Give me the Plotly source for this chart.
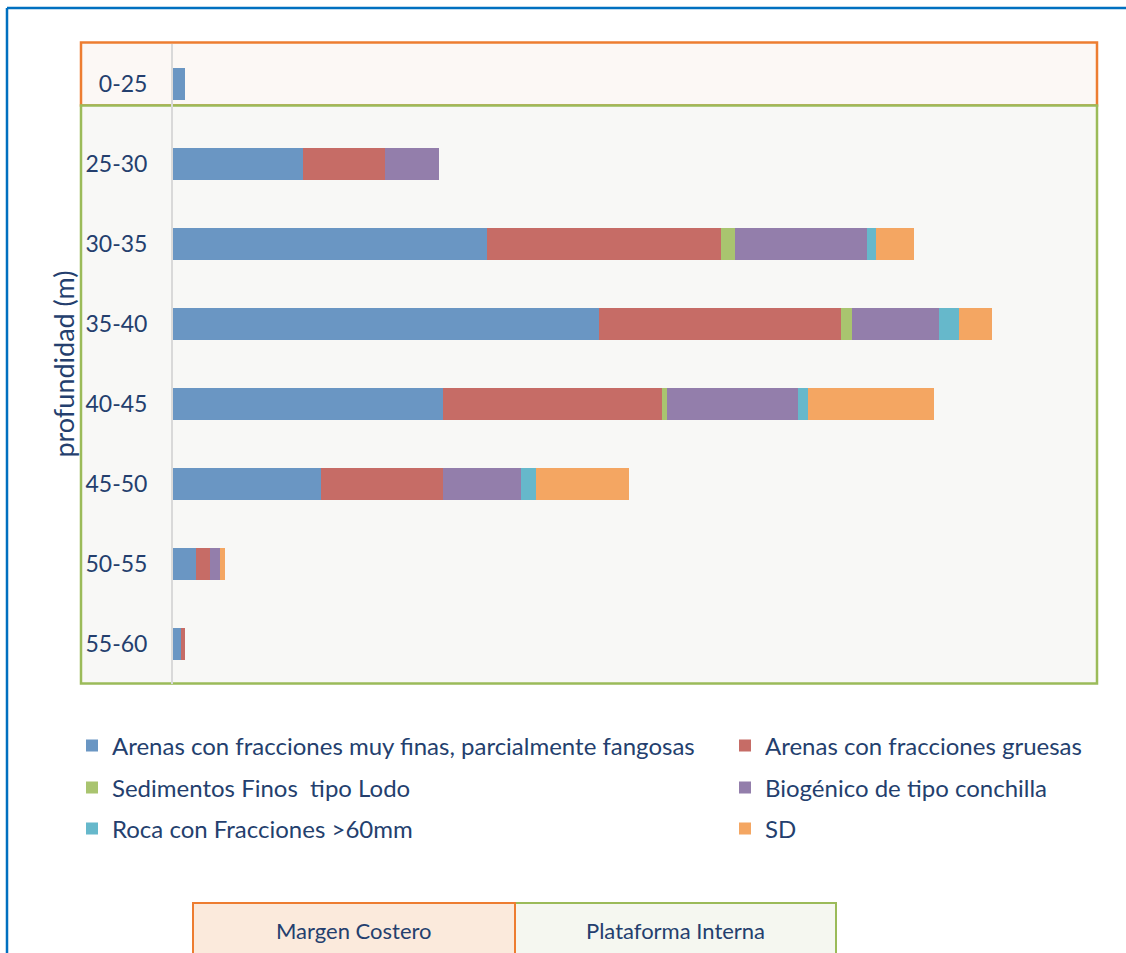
import plotly.graph_objects as go

# Depth classes (m)
depths = ["0-25", "25-30", "30-35", "35-40", "40-45", "45-50", "50-55", "55-60"]

# Stacked amounts per sediment type for each depth class
arenas_finas = [3.1, 32.6, 78.5, 106.5, 67.6, 37.0, 5.7, 2.0]
arenas_gruesas = [0.0, 20.5, 58.4, 60.5, 54.7, 30.6, 3.6, 1.0]
sedimentos_finos = [0.0, 0.0, 3.6, 2.7, 1.2, 0.0, 0.0, 0.0]
biogenico = [0.0, 13.3, 32.9, 21.8, 32.8, 19.4, 2.5, 0.0]
roca = [0.0, 0.0, 2.3, 5.0, 2.5, 3.8, 0.0, 0.0]
sin_dato = [0.0, 0.0, 9.6, 8.3, 31.5, 23.1, 1.3, 0.0]

series_names = [
    "Arenas con fracciones muy finas, parcialmente fangosas",
    "Arenas con fracciones gruesas",
    "Sedimentos Finos  tipo Lodo",
    "Biogénico de tipo conchilla",
    "Roca con Fracciones >60mm",
    "SD",
]
series_values = [arenas_finas, arenas_gruesas, sedimentos_finos, biogenico, roca, sin_dato]
series_colors = ["#6A96C3", "#C66C66", "#A9C46F", "#937EAB", "#66B8CB", "#F4A662"]

zone_labels = ["Margen Costero", "Plataforma Interna"]

W, H = 1126, 953
L, R, T, B = 173, 29, 44, 269
PW, PH = W - L - R, H - T - B


def px(x):
    return (x - L) / PW


def py(y):
    return (H - B - y) / PH


FONT = "Lato"
TXT = "#243F6E"

fig = go.Figure()

# legend slots: two columns, three rows
leg_x = [px(72), px(725)]
leg_y = [py(746), py(788), py(829)]

for i, (name, vals, col) in enumerate(zip(series_names, series_values, series_colors)):
    lname = "legend" if i == 0 else f"legend{i + 1}"
    fig.add_trace(go.Bar(
        y=depths, x=vals, name=name, orientation="h",
        marker=dict(color=col, line=dict(width=0)),
        width=0.4, legend=lname, showlegend=True,
    ))
    fig.update_layout({lname: dict(
        x=leg_x[i % 2], y=leg_y[i // 2], xanchor="left", yanchor="middle",
        orientation="h", bgcolor="rgba(0,0,0,0)", itemwidth=30,
        font=dict(family=FONT, size=24, color=TXT),
        itemclick=False, itemdoubleclick=False,
    )})

shapes = []
# coastal margin band (top row)
shapes.append(dict(type="rect", xref="paper", yref="paper",
                   x0=px(81), x1=px(1097), y0=py(105.5), y1=py(42.5),
                   fillcolor="#FCF8F5", line=dict(color="#ED7D31", width=2.5), layer="below"))
# inner shelf band (remaining rows)
shapes.append(dict(type="rect", xref="paper", yref="paper",
                   x0=px(81), x1=px(1097), y0=py(683.5), y1=py(105.5),
                   fillcolor="#F8F8F6", line=dict(color="#9BBB59", width=2.5), layer="below"))
# outer frame
shapes.append(dict(type="line", xref="paper", yref="paper",
                   x0=px(7), x1=px(7), y0=py(8), y1=py(960),
                   line=dict(color="#0070C0", width=2.5)))
shapes.append(dict(type="line", xref="paper", yref="paper",
                   x0=px(7), x1=px(1130), y0=py(8), y1=py(8),
                   line=dict(color="#0070C0", width=2.5)))
# zone key boxes
shapes.append(dict(type="rect", xref="paper", yref="paper",
                   x0=px(515), x1=px(836), y0=py(960), y1=py(903),
                   fillcolor="#F5F7F0", line=dict(color="#9BBB59", width=2)))
shapes.append(dict(type="rect", xref="paper", yref="paper",
                   x0=px(193), x1=px(515), y0=py(960), y1=py(903),
                   fillcolor="#FBEADC", line=dict(color="#ED7D31", width=2)))

annotations = [
    dict(xref="paper", yref="paper", x=px(354), y=py(930), text=zone_labels[0],
         showarrow=False, xanchor="center", yanchor="middle",
         font=dict(family=FONT, size=22, color=TXT)),
    dict(xref="paper", yref="paper", x=px(675), y=py(930), text=zone_labels[1],
         showarrow=False, xanchor="center", yanchor="middle",
         font=dict(family=FONT, size=22, color=TXT)),
]

fig.update_layout(
    width=W, height=H,
    margin=dict(l=L, r=R, t=T, b=B, autoexpand=False),
    barmode="stack",
    showlegend=True,
    paper_bgcolor="white",
    plot_bgcolor="rgba(0,0,0,0)",
    shapes=shapes,
    annotations=annotations,
    xaxis=dict(range=[0, 231], visible=False, fixedrange=True),
    yaxis=dict(
        categoryorder="array", categoryarray=depths,
        range=[7.5, -0.5],
        showline=True, linecolor="#D9D9D9", linewidth=2,
        showgrid=False, zeroline=False, ticks="",
        ticklabelstandoff=19,
        tickfont=dict(family=FONT, size=23, color=TXT),
        title=dict(text="profundidad (m)", standoff=3,
                   font=dict(family=FONT, size=27, color=TXT)),
        fixedrange=True,
    ),
)

fig.write_html("out.html")
